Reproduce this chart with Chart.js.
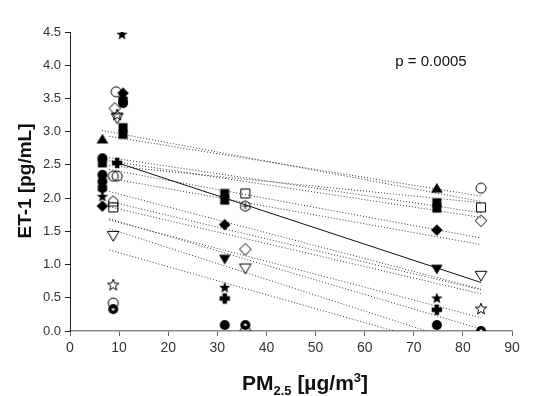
<!DOCTYPE html>
<html>
<head>
<meta charset="utf-8">
<script src="https://cdn.jsdelivr.net/npm/chart.js@4"></script>
<style>
  html, body { margin: 0; padding: 0; background: #fff; }
  canvas { display: block; }
</style>
</head>
<body>
<canvas id="grafico" width="542" height="396"></canvas>
<script>
// valores: [PM2.5, ET-1]
const trianguloLleno = [[6.6, 2.89], [74.7, 2.15]];
const circuloLleno = [[6.6, 2.60], [6.6, 2.35], [6.6, 2.25], [10.8, 3.43], [31.5, 0.09], [74.7, 0.09]];
const cuadradoLleno = [[6.6, 2.53], [10.8, 3.06], [10.8, 2.96], [31.5, 2.07], [31.5, 1.97], [74.7, 1.93], [74.7, 1.85]];
const hexagonoLleno = [[6.6, 2.15], [10.8, 3.48]];
const estrellaLlena = [[6.6, 2.02], [10.6, 4.46], [31.5, 0.65], [74.7, 0.49]];
const romboLleno = [[6.6, 1.88], [10.8, 3.58], [31.5, 1.60], [74.7, 1.52]];
const cruzLlena = [[9.6, 2.53], [31.5, 0.49], [74.7, 0.32]];
const trianguloInvLleno = [[31.5, 1.08], [74.7, 0.93]];
const circuloVacio = [[8.8, 2.33], [9.6, 2.33], [9.4, 3.60], [8.8, 0.42], [35.7, 0.0], [83.7, 2.15]];
const cuadradoVacio = [[8.8, 1.86], [35.7, 2.07], [83.7, 1.86]];
const romboVacio = [[9.1, 3.35], [35.7, 1.23], [83.7, 1.66]];
const trianguloInvVacio = [[9.6, 3.20], [8.8, 1.43], [35.7, 0.94], [83.7, 0.83]];
const estrellaVacia = [[9.6, 3.25], [8.8, 0.69], [83.7, 0.33]];
const casaVacia = [[8.8, 1.95]];
const engranaje = [[35.7, 1.88]];
const diana = [[8.8, 0.33], [35.7, 0.09], [83.7, 0.0]];

// rectas por sujeto (punteadas): [x1, y1, x2, y2]
const rectasSujetos = [
    [6.5, 3.02, 83.7, 1.95],
    [8, 2.93, 83.7, 2.03],
    [8, 2.49, 83.7, 1.93],
    [8, 2.61, 83.7, 1.78],
    [8, 2.56, 83.7, 1.71],
    [8, 2.43, 83.7, 1.40],
    [8, 2.30, 83.7, 1.30],
    [8, 2.10, 83.7, 0.63],
    [8, 1.95, 83.7, 0.62],
    [8, 1.87, 83.7, 0.56],
    [8, 1.67, 83.7, 0.20],
    [8, 1.69, 83.7, 0.03],
    [8, 1.54, 72.6, 0],
    [8, 1.22, 66, 0]
];
// recta de regresion global
const rectaGlobal = [[8.5, 2.56], [83.7, 0.73]];

const ticksX = [0, 10, 20, 30, 40, 50, 60, 70, 80, 90];
const ticksY = [0, 0.5, 1, 1.5, 2, 2.5, 3, 3.5, 4, 4.5];

// marcadores dibujados a mano en un canvas chico
function marcador(forma, lleno) {
    const c = document.createElement('canvas');
    c.width = 14; c.height = 14;
    const g = c.getContext('2d');
    g.translate(7, 7);
    g.fillStyle = '#000';
    g.strokeStyle = '#000';
    g.lineWidth = 1;
    g.beginPath();
    const r = 5;
    if (forma === 'circulo' || forma === 'diana') {
        g.arc(0, 0, r, 0, Math.PI * 2);
    } else if (forma === 'cuadrado') {
        g.rect(-4.5, -4.5, 9, 9);
    } else if (forma === 'rombo') {
        g.moveTo(0, -5.8); g.lineTo(5.8, 0); g.lineTo(0, 5.8); g.lineTo(-5.8, 0); g.closePath();
    } else if (forma === 'triangulo') {
        g.moveTo(0, -5.2); g.lineTo(5.8, 4.6); g.lineTo(-5.8, 4.6); g.closePath();
    } else if (forma === 'trianguloInv') {
        g.moveTo(0, 5.2); g.lineTo(5.8, -4.6); g.lineTo(-5.8, -4.6); g.closePath();
    } else if (forma === 'hexagono' || forma === 'engranaje') {
        for (let i = 0; i < 6; i++) {
            const a = Math.PI / 6 + i * Math.PI / 3;
            g.lineTo(Math.cos(a) * 5.4, Math.sin(a) * 5.4);
        }
        g.closePath();
    } else if (forma === 'estrella') {
        for (let i = 0; i < 10; i++) {
            const a = -Math.PI / 2 + i * Math.PI / 5;
            const rr = i % 2 === 0 ? 6 : 2.5;
            g.lineTo(Math.cos(a) * rr, Math.sin(a) * rr);
        }
        g.closePath();
    } else if (forma === 'cruz') {
        const a = 2.2, b = 5.2;
        g.moveTo(-a, -b); g.lineTo(a, -b); g.lineTo(a, -a); g.lineTo(b, -a); g.lineTo(b, a);
        g.lineTo(a, a); g.lineTo(a, b); g.lineTo(-a, b); g.lineTo(-a, a); g.lineTo(-b, a);
        g.lineTo(-b, -a); g.lineTo(-a, -a); g.closePath();
    } else if (forma === 'casa') {
        g.moveTo(0, -5.5); g.lineTo(4.7, -1.5); g.lineTo(4.7, 4.7); g.lineTo(-4.7, 4.7); g.lineTo(-4.7, -1.5); g.closePath();
    }
    if (lleno) g.fill(); else g.stroke();
    if (forma === 'diana') {
        g.beginPath(); g.fillStyle = '#fff'; g.arc(0, 0, 1.6, 0, Math.PI * 2); g.fill();
    }
    if (forma === 'engranaje') {
        g.beginPath(); g.moveTo(0, -3); g.lineTo(0, 3); g.moveTo(-3, 0); g.lineTo(3, 0); g.stroke();
    }
    return c;
}

const aPuntos = arr => arr.map(p => ({ x: p[0], y: p[1] }));

const grupos = [
    [trianguloLleno, 'triangulo', true],
    [circuloLleno, 'circulo', true],
    [cuadradoLleno, 'cuadrado', true],
    [hexagonoLleno, 'hexagono', true],
    [estrellaLlena, 'estrella', true],
    [romboLleno, 'rombo', true],
    [cruzLlena, 'cruz', true],
    [trianguloInvLleno, 'trianguloInv', true],
    [circuloVacio, 'circulo', false],
    [cuadradoVacio, 'cuadrado', false],
    [romboVacio, 'rombo', false],
    [trianguloInvVacio, 'trianguloInv', false],
    [estrellaVacia, 'estrella', false],
    [casaVacia, 'casa', false],
    [engranaje, 'engranaje', false],
    [diana, 'diana', true]
];

const datasets = [];

grupos.forEach(([datos, forma, lleno]) => {
    datasets.push({
        data: aPuntos(datos),
        pointStyle: marcador(forma, lleno),
        showLine: false,
        order: 1
    });
});

rectasSujetos.forEach(r => {
    datasets.push({
        data: [{ x: r[0], y: r[1] }, { x: r[2], y: r[3] }],
        showLine: true,
        borderColor: '#3a3a3a',
        borderWidth: 1,
        borderDash: [1, 2],
        pointRadius: 0,
        order: 3
    });
});

datasets.push({
    data: aPuntos(rectaGlobal),
    showLine: true,
    borderColor: '#111',
    borderWidth: 1,
    pointRadius: 0,
    order: 2
});

// textos que Chart.js no dibuja con subindices
const textos = {
    id: 'textos',
    afterDraw(chart) {
        const ctx = chart.ctx;
        ctx.save();
        ctx.fillStyle = '#111';
        ctx.textBaseline = 'alphabetic';

        ctx.font = '15px "Liberation Sans", Arial, sans-serif';
        ctx.textAlign = 'center';
        ctx.fillText('p = 0.0005', 431, 66);

        // titulo eje x: PM2.5 [µg/m3]
        const partes = [
            ['PM', 21, 0],
            ['2.5', 13, 5],
            [' [µg/m', 21, 0],
            ['3', 13, -8],
            [']', 21, 0]
        ];
        let ancho = 0;
        partes.forEach(p => {
            ctx.font = 'bold ' + p[1] + 'px "Liberation Sans", Arial, sans-serif';
            ancho += ctx.measureText(p[0]).width;
        });
        let x = 305 - ancho / 2;
        ctx.textAlign = 'left';
        partes.forEach(p => {
            ctx.font = 'bold ' + p[1] + 'px "Liberation Sans", Arial, sans-serif';
            ctx.fillText(p[0], x, 390 + p[2]);
            x += ctx.measureText(p[0]).width;
        });

        // titulo eje y
        ctx.translate(26, 181);
        ctx.rotate(-Math.PI / 2);
        ctx.textAlign = 'center';
        ctx.textBaseline = 'middle';
        ctx.font = 'bold 19px "Liberation Sans", Arial, sans-serif';
        ctx.fillText('ET-1 [pg/mL]', 0, 0);
        ctx.restore();
    }
};

new Chart(document.getElementById('grafico'), {
    type: 'scatter',
    data: { datasets: datasets },
    options: {
        responsive: false,
        animation: false,
        devicePixelRatio: 1,
        layout: { padding: { top: 32, right: 30, left: 0, bottom: 0 } },
        plugins: {
            legend: { display: false },
            tooltip: { enabled: false }
        },
        elements: { point: { radius: 5 } },
        scales: {
            x: {
                type: 'linear',
                min: 0,
                max: 90,
                afterFit: s => { s.height = 65; },
                afterBuildTicks: s => { s.ticks = ticksX.map(v => ({ value: v })); },
                grid: { drawOnChartArea: false, drawTicks: true, tickLength: 5, color: '#666' },
                border: { display: true, color: '#8a8a8a', width: 1.5 },
                ticks: {
                    padding: 4,
                    color: '#333',
                    font: { family: '"Liberation Sans", Arial, sans-serif', size: 14 },
                    maxRotation: 0
                }
            },
            y: {
                type: 'linear',
                min: 0,
                max: 4.5,
                afterFit: s => { s.width = 70; },
                afterBuildTicks: s => { s.ticks = ticksY.map(v => ({ value: v })); },
                grid: { drawOnChartArea: false, drawTicks: true, tickLength: 5, color: '#222' },
                border: { display: true, color: '#222', width: 1 },
                ticks: {
                    padding: 4,
                    color: '#333',
                    font: { family: '"Liberation Sans", Arial, sans-serif', size: 13 },
                    callback: v => v.toFixed(1)
                }
            }
        }
    },
    plugins: [textos]
});
</script>
</body>
</html>
